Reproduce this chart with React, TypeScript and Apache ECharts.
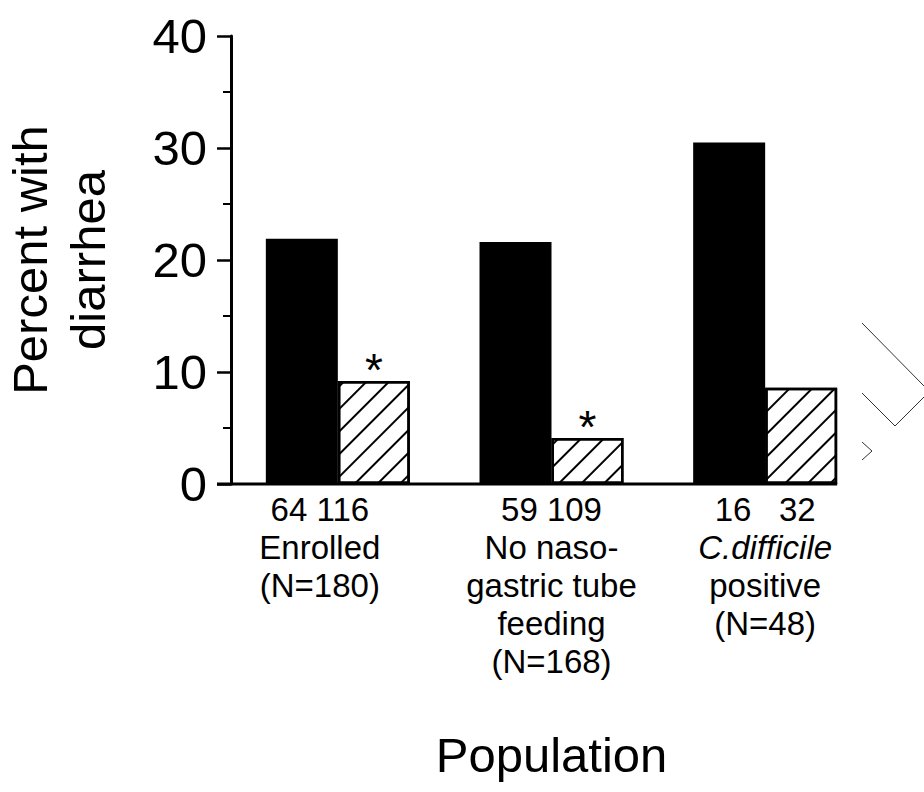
import React, { useEffect, useRef } from "react";
import * as echarts from "echarts";

const categories = ["Enrolled", "No naso-\ngastric tube\nfeeding", "C.difficile\npositive"];
const totals = ["(N=180)", "(N=168)", "(N=48)"];
const groupCounts = ["64 116", "59 109", "16   32"];
const blackValues = [21.9, 21.6, 30.5];
const hatchedValues = [9.2, 4.1, 8.6];
const significant = [true, true, false];
const yMin = 0;
const yMax = 40;
const yInterval = 10;

const FONT = "Liberation Sans, Arial, Helvetica, sans-serif";
const BAR_W = 72;

export default function App() {
  const ref = useRef<HTMLDivElement>(null);
  useEffect(() => {
    if (!ref.current) return;
    const chart = echarts.init(ref.current, null, { renderer: "svg" });
    const option: any = {
      animation: false,
      backgroundColor: "#fff",
      grid: { left: 231, right: 52, top: 36, bottom: 308, containLabel: false, outerBoundsMode: "none" },
      xAxis: {
        type: "category",
        data: categories.map((c, i) =>
          i === 0 ? { value: c, textStyle: { padding: [0, 36, 0, 0] } } : c
        ),
        axisLine: { show: false },
        axisTick: { show: false },
        axisLabel: {
          interval: 0,
          margin: 6,
          color: "#000",
          fontFamily: FONT,
          formatter: (value: string, idx: number) => {
            const lines = value.split("\n").map((l) =>
              l === "C.difficile" ? `{i|${l}}` : `{t|${l}}`
            );
            return [`{t|${groupCounts[idx]}}`, ...lines, `{t|${totals[idx]}}`].join("\n");
          },
          rich: {
            t: { fontSize: 33, lineHeight: 38, color: "#000", fontFamily: FONT },
            i: { fontSize: 33, lineHeight: 38, color: "#000", fontFamily: FONT, fontStyle: "italic" },
          },
        },
        name: "Population",
        nameLocation: "middle",
        nameGap: 246,
        nameTextStyle: { fontSize: 49, color: "#000", fontFamily: FONT },
      },
      yAxis: {
        type: "value",
        min: yMin,
        max: yMax,
        interval: yInterval,
        axisLine: { show: true, lineStyle: { color: "#000", width: 3 } },
        axisTick: { show: true, inside: false, length: 14, lineStyle: { color: "#000", width: 2.5 } },
        minorTick: { show: true, splitNumber: 2, length: 8, lineStyle: { color: "#000", width: 2 } },
        splitLine: { show: false },
        axisLabel: { fontSize: 49, color: "#000", margin: 24, fontFamily: FONT },
        name: "Percent with\ndiarrhea",
        nameLocation: "middle",
        nameGap: 114,
        nameTextStyle: { fontSize: 49, lineHeight: 58, color: "#000", fontFamily: FONT },
      },
      series: [
        {
          type: "bar",
          data: blackValues,
          barWidth: BAR_W,
          barGap: "0%",
          itemStyle: { color: "#000" },
        },
        {
          type: "bar",
          data: hatchedValues.map((v, i) => ({
            value: v,
            label: { show: significant[i] },
          })),
          barWidth: BAR_W,
          barGap: "0%",
          itemStyle: {
            color: "#fff",
            borderColor: "#000",
            borderWidth: 2.5,
            decal: {
              symbol: "rect",
              symbolSize: 1,
              color: "#000",
              backgroundColor: "#fff",
              dashArrayX: [1, 0],
              dashArrayY: [2, 14],
              rotation: -Math.PI / 4,
            },
          },
          label: {
            show: false,
            position: "top",
            distance: -12,
            formatter: "*",
            fontSize: 46,
            color: "#000",
            fontFamily: FONT,
          },
        },
      ],
    };
    chart.setOption(option);
    const p0 = chart.convertToPixel({ gridIndex: 0 }, [0, 0]) as number[];
    const p2 = chart.convertToPixel({ gridIndex: 0 }, [2, 0]) as number[];
    const gridLeft = 231;
    chart.setOption({
      graphic: [
        {
          type: "line",
          shape: { x1: gridLeft - 14, y1: p0[1], x2: p2[0] + BAR_W, y2: p2[1] },
          style: { stroke: "#000", lineWidth: 3 },
          z: 10,
        },
        {
          type: "polyline",
          shape: { points: [[862, 323], [924, 386]] },
          style: { stroke: "#333", lineWidth: 1, fill: null },
        },
        {
          type: "polyline",
          shape: { points: [[862, 393], [895, 426], [924, 397]] },
          style: { stroke: "#333", lineWidth: 1, fill: null },
        },
        {
          type: "polyline",
          shape: { points: [[862, 442], [872, 451], [862, 460]] },
          style: { stroke: "#333", lineWidth: 1, fill: null },
        },
      ],
    });
    return () => chart.dispose();
  }, []);
  return <div ref={ref} style={{ width: 924, height: 792, position: "absolute", left: 0, top: 0 }} />;
}
